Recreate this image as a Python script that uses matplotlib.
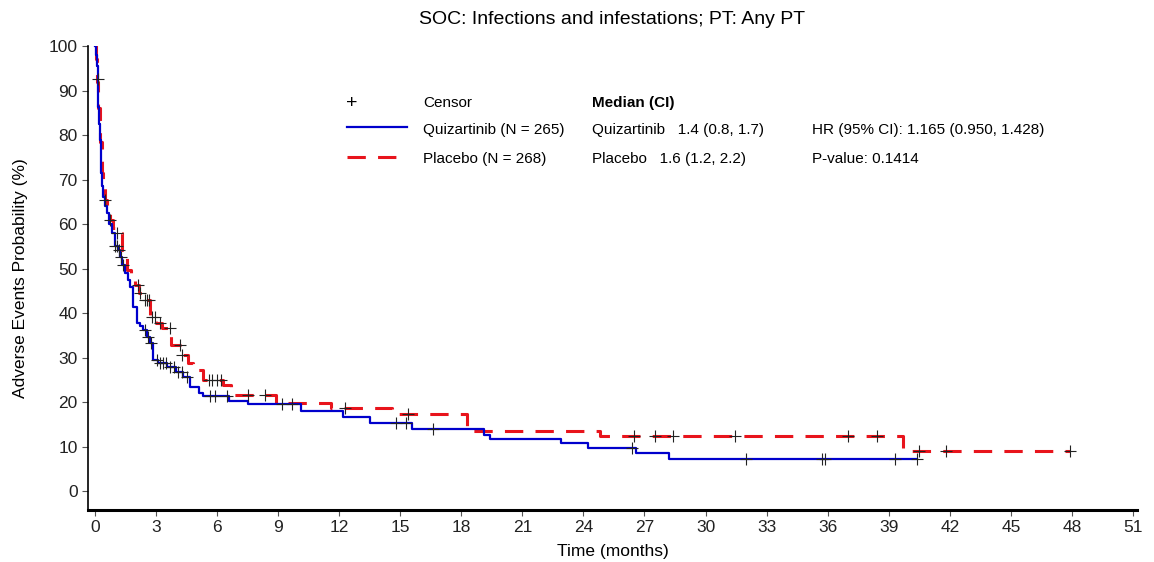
import numpy as np
import matplotlib.pyplot as plt

# Kaplan-Meier style step curves (time in months, probability in %)
q_time = [0, 0.04, 0.08, 0.13, 0.16, 0.2, 0.25, 0.29, 0.34, 0.41, 0.48, 0.57, 0.7, 0.82,
          0.98, 1.15, 1.23, 1.35, 1.47, 1.6, 1.72, 1.88, 2.05, 2.2, 2.37, 2.55, 2.7, 2.87,
          3.1, 3.52, 4.0, 4.34, 4.67, 5.1, 5.3, 6.6, 7.5, 10.1, 12.2, 13.5, 15.6, 19.1,
          19.4, 22.9, 24.2, 26.6, 28.2]
q_surv = [100, 98.0, 95.5, 92.7, 86.4, 82.5, 78.9, 71.4, 68.5, 66.1, 64.0, 62.4, 60.0, 57.9,
          55.0, 54.2, 52.7, 50.8, 48.9, 47.4, 45.9, 41.4, 37.7, 37.0, 36.2, 34.6, 33.2, 29.4,
          28.7, 27.9, 26.8, 25.7, 23.4, 22.0, 21.4, 20.3, 19.5, 17.9, 16.6, 15.2, 14.0, 12.6,
          11.7, 10.7, 9.6, 8.5, 7.3]
q_end = 40.4

p_time = [0, 0.05, 0.1, 0.16, 0.24, 0.33, 0.41, 0.49, 0.6, 0.74, 0.9, 1.06, 1.31, 1.56,
          1.77, 1.97, 2.17, 2.37, 2.7, 3.0, 3.27, 3.76, 4.26, 4.55, 4.83, 5.3, 6.3, 6.7,
          8.9, 11.6, 14.6, 18.3, 24.8, 39.7]
p_surv = [100, 97.0, 92.0, 86.0, 78.5, 71.4, 68.0, 65.4, 63.0, 60.9, 59.2, 57.9, 54.2, 49.7,
          48.0, 46.3, 44.6, 42.9, 39.2, 37.8, 36.6, 32.8, 30.6, 28.8, 27.2, 25.0, 23.8, 21.6,
          19.8, 18.6, 17.3, 13.5, 12.3, 9.1]
p_end = 47.9

q_censor = [0.13, 1.0, 1.1, 1.2, 1.3, 1.4, 2.45, 2.6, 2.75, 3.05, 3.2, 3.35, 3.5, 3.7,
            3.9, 4.1, 4.3, 4.5, 5.65, 5.9, 6.5, 9.2, 9.7, 14.8, 15.3, 16.6, 26.4,
            32.0, 35.7, 35.85, 39.3, 40.4]
p_censor = [0.5, 0.75, 1.1, 2.1, 2.2, 2.45, 2.55, 2.65, 2.8, 2.95, 3.2, 3.7, 4.2, 4.3,
            5.6, 5.75, 6.0, 6.2, 7.5, 8.35, 12.3, 15.4, 26.5, 27.5, 28.4, 31.45,
            37.0, 38.4, 40.5, 41.8, 47.9]

title = "SOC: Infections and infestations; PT: Any PT"
x_ticks = np.arange(0, 52, 3)
y_ticks = np.arange(0, 101, 10)

plt.rcParams['font.family'] = ['Liberation Sans', 'DejaVu Sans']

fig = plt.figure(figsize=(11.54, 5.62), dpi=100)
ax = fig.add_axes([0.0763, 0.0925, 0.9090, 0.8256])


def step_xy(t, s, end):
    return list(t) + [end], list(s) + [s[-1]]


def value_at(t, s, tc):
    idx = np.searchsorted(t, tc, side='right') - 1
    return np.array(s)[idx]


qx, qy = step_xy(q_time, q_surv, q_end)
px, py = step_xy(p_time, p_surv, p_end)

ax.step(qx, qy, where='post', color='#0000cc', lw=1.6, zorder=3)
ax.step(px, py, where='post', color='#e8141c', lw=2.2, dashes=(6, 4), zorder=2)

ax.plot(q_censor, value_at(q_time, q_surv, q_censor), ls='none', marker='+',
        color='#222222', ms=8, mew=0.8, zorder=4)
ax.plot(p_censor, value_at(p_time, p_surv, p_censor), ls='none', marker='+',
        color='#222222', ms=8, mew=0.8, zorder=4)

ax.set_xlim(-0.34, 51.2)
ax.set_ylim(-4.27, 100)
ax.set_xticks(x_ticks)
ax.set_yticks(y_ticks)
ax.tick_params(labelsize=12.5, length=4, width=0.8, color='#555555', labelcolor='#222222')
for sp in ['top', 'right']:
    ax.spines[sp].set_visible(False)
ax.spines['left'].set_linewidth(1.2)
ax.spines['bottom'].set_linewidth(2.2)

ax.set_xlabel('Time (months)', fontsize=12.5, labelpad=6)
ax.set_ylabel('Adverse Events Probability (%)', fontsize=12.5, labelpad=15)
fig.text(0.53, 0.965, title, ha='center', va='center', fontsize=14)


# legend / statistics block in figure pixel coordinates
def ftxt(x, y, s, size=11, **kw):
    fig.text(x / 1154, 1 - y / 562, s, va='center', fontsize=size, **kw)


ftxt(346, 103, '+', size=14)
ftxt(423, 103, 'Censor')
ftxt(592, 103, 'Median (CI)', weight='bold')
ftxt(423, 130, 'Quizartinib (N = 265)')
ftxt(592, 130, 'Quizartinib   1.4 (0.8, 1.7)')
ftxt(812, 130, 'HR (95% CI): 1.165 (0.950, 1.428)')
ftxt(423, 159, 'Placebo (N = 268)')
ftxt(592, 159, 'Placebo   1.6 (1.2, 2.2)')
ftxt(812, 159, 'P-value: 0.1414')
fig.add_artist(plt.Line2D([347 / 1154, 407 / 1154], [1 - 127 / 562, 1 - 127 / 562],
                          color='#0000cc', lw=1.6))
fig.add_artist(plt.Line2D([347 / 1154, 407 / 1154], [1 - 157 / 562, 1 - 157 / 562],
                          color='#e8141c', lw=2.2, dashes=(6, 4)))

fig.savefig('out.png', dpi=100)
